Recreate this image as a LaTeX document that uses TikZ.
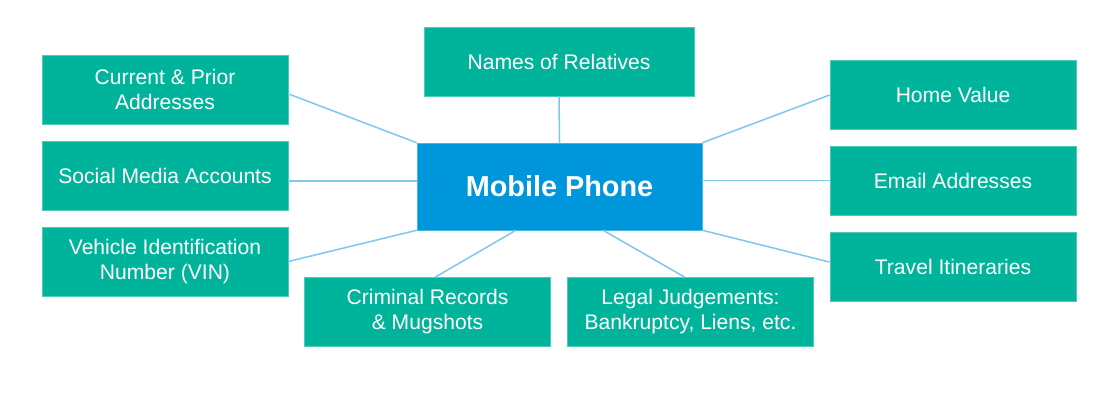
\documentclass[tikz,border=0pt]{standalone}
\usepackage{fontspec}
\setmainfont{Liberation Sans}
\usetikzlibrary{calc}
\definecolor{boxgreen}{HTML}{00B49C}
\definecolor{phoneblue}{HTML}{0096DC}
\definecolor{linkblue}{HTML}{80C8EE}
\tikzset{
	infobox/.style={fill=boxgreen, draw=boxgreen!70!white, line width=0.5pt, text=white, align=center, minimum width=6.15cm, minimum height=1.72cm, inner sep=0pt, font=\fontsize{15}{17.8}\selectfont},
	phonebox/.style={fill=phoneblue, draw=phoneblue!70!white, line width=0.5pt, text=white, minimum width=7.12cm, minimum height=2.17cm, font=\fontsize{20.5}{24}\selectfont\bfseries},
	link/.style={draw=linkblue, line width=1.1pt}
}
\begin{document}
\begin{tikzpicture}[x=0.025cm, y=-0.025cm]
	\useasboundingbox (0,0) rectangle (1110,400);
	\node[phonebox] (phone) at (559.5,186.5) {Mobile Phone};
	\node[infobox] (cur) at (165,89.5) {Current \& Prior\\Addresses};
	\node[infobox] (soc) at (165,175.5) {Social Media Accounts};
	\node[infobox] (vin) at (165,261.5) {Vehicle Identification\\Number (VIN)};
	\node[infobox, minimum width=6.75cm] (rel) at (559,61.5) {Names of Relatives};
	\node[infobox] (home) at (953,95) {Home Value};
	\node[infobox] (mail) at (953,180.5) {Email Addresses};
	\node[infobox] (trip) at (953,266.5) {Travel Itineraries};
	\node[infobox] (crim) at (427.5,312) {Criminal Records\\\& Mugshots};
	\node[infobox] (legal) at (690.5,312) {Legal Judgements:\\Bankruptcy, Liens, etc.};
	
	\draw[link] ([yshift=-0.11cm]cur.east) -- (phone.north west);
	\draw[link] ([yshift=-0.14cm]soc.east) -- ([yshift=-0.14cm]soc.east -| phone.west);
	\draw[link] (vin.east) -- (phone.south west);
	\draw[link] (rel.south) -- (phone.north);
	\draw[link] (home.west) -- (phone.north east);
	\draw[link] (mail.west) -- (mail.west -| phone.east);
	\draw[link] ([yshift=0.11cm]trip.west) -- (phone.south east);
	\draw[link] ([xshift=0.19cm]crim.north) -- ([xshift=-1.09cm]phone.south);
	\draw[link] ([xshift=-0.14cm]legal.north) -- ([xshift=1.09cm]phone.south);
\end{tikzpicture}
\end{document}
